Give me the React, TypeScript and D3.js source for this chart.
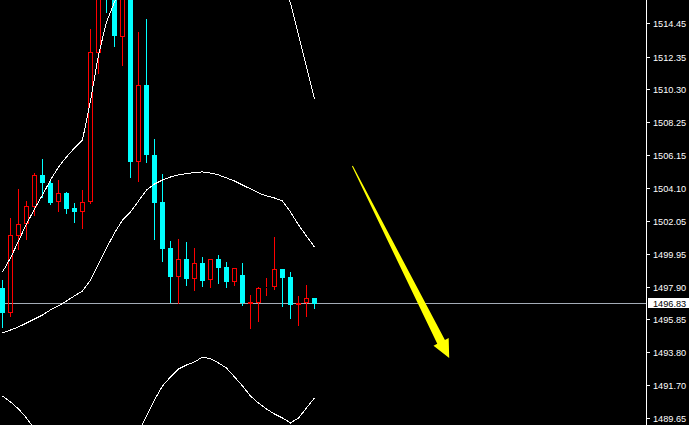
import React from "react";
import * as d3 from "d3";

const W = 689;
const H = 425;

const opens = [1497.82,1496.25,1501.08,1501.84,1502.91,1504.92,1504.41,1503.22,1503.79,1502.84,1502.59,1503.22,1512.58,1519.37,1517.48,1513.59,1516.54,1505.73,1510.57,1506.17,1503.22,1500.33,1498.51,1499.64,1498.38,1499.39,1498.32,1499.64,1499.14,1498.20,1498.63,1496.81,1496.88,1497.82,1497.88,1499.01,1498.51,1496.75,1496.88,1497.19];
const highs = [1498.32,1502.22,1504.04,1503.28,1505.04,1505.92,1504.67,1504.60,1503.85,1503.16,1503.97,1514.09,1518.74,1520.62,1518.42,1517.79,1517.17,1513.90,1514.72,1507.18,1504.98,1500.77,1500.90,1500.71,1500.33,1499.77,1499.64,1499.89,1499.45,1499.07,1499.39,1497.38,1497.88,1498.45,1501.02,1499.01,1498.82,1497.32,1498.01,1497.19];
const lows = [1495.37,1496.06,1500.27,1500.90,1502.40,1503.53,1503.10,1502.65,1502.53,1501.96,1501.59,1503.16,1511.32,1515.16,1513.02,1511.83,1504.79,1504.54,1505.73,1500.90,1499.51,1496.94,1496.88,1498.01,1497.69,1497.94,1497.88,1498.13,1497.88,1498.01,1496.75,1495.31,1495.75,1497.38,1497.76,1496.69,1495.93,1495.49,1496.06,1496.56];
const closes = [1496.25,1501.15,1501.84,1502.97,1504.92,1504.41,1503.16,1503.79,1502.78,1502.59,1503.22,1512.64,1517.17,1517.48,1513.65,1516.54,1505.73,1510.57,1506.17,1503.16,1500.27,1498.51,1499.64,1498.38,1499.39,1498.26,1499.64,1499.07,1498.20,1499.07,1496.88,1496.94,1497.82,1497.88,1499.01,1498.45,1496.75,1496.88,1497.19,1496.83];

const upperBand = [1498.82,1499.70,1500.77,1501.84,1502.78,1503.66,1504.60,1505.42,1506.05,1506.61,1507.12,1509.57,1512.46,1514.53,1515.78,1516.85,1517.23,1517.86,1518.17,1517.92,1517.54,1517.35,1517.10,1517.04,1516.98,1516.73,1516.73,1516.73,1516.66,1516.85,1516.92,1517.04,1516.98,1516.98,1517.04,1516.92,1515.72,1513.71,1511.70,1509.69];
const middleBand = [1494.99,1495.18,1495.37,1495.62,1495.87,1496.12,1496.44,1496.69,1497.00,1497.32,1497.63,1498.32,1499.33,1500.33,1501.27,1502.09,1502.59,1503.28,1503.97,1504.35,1504.60,1504.79,1504.92,1505.01,1505.07,1505.11,1505.04,1504.92,1504.73,1504.54,1504.29,1504.04,1503.79,1503.60,1503.47,1503.28,1502.59,1501.78,1501.08,1500.39];
const lowerBand = [1491.03,1490.66,1490.22,1489.65,1488.96,1488.58,1488.27,1487.96,1487.96,1488.02,1488.14,1487.08,1486.20,1486.13,1486.76,1487.33,1487.96,1488.71,1489.78,1490.78,1491.66,1492.23,1492.73,1492.98,1493.17,1493.48,1493.36,1493.11,1492.79,1492.23,1491.66,1491.03,1490.59,1490.22,1489.90,1489.65,1489.34,1489.65,1490.28,1490.91];

const tickLabels = ["1514.45","1512.35","1510.30","1508.25","1506.15","1504.10","1502.05","1499.95","1497.90","1495.85","1493.80","1491.70","1489.65"];
const currentPrice = 1496.83;
const arrowFrom = { bar: 43.8, price: 1505.48 };
const arrowTo = { bar: 55.9, price: 1493.42 };

const AXIS_X = 646;

export default function App() {
  const x = d3.scaleLinear().domain([0, 39]).range([2, 314]);
  const y = d3.scaleLinear().domain([1489.21, 1515.91]).range([H, 0]);
  const idx = d3.range(opens.length);

  const line = d3
    .line<number>()
    .x((_, i) => x(i) + 0.5)
    .y((d) => y(d));

  // arrow geometry
  const p0 = [x(arrowFrom.bar), y(arrowFrom.price)];
  const p1 = [x(arrowTo.bar), y(arrowTo.price)];
  const dx = p1[0] - p0[0];
  const dy = p1[1] - p0[1];
  const len = Math.hypot(dx, dy);
  const u = [dx / len, dy / len];
  const n = [u[1], -u[0]];
  const headLen = 18;
  const headHalf = 8.5;
  const base = [p1[0] - u[0] * headLen, p1[1] - u[1] * headLen];
  const tailHalf = 0.5;
  const shaftHalf = 4.3;
  const pt = (p: number[], k: number) => `${p[0] + n[0] * k},${p[1] + n[1] * k}`;
  const arrowPoints = [
    pt(p0, tailHalf),
    pt(base, shaftHalf),
    pt(base, headHalf),
    `${p1[0]},${p1[1]}`,
    pt(base, -headHalf),
    pt(base, -shaftHalf),
    pt(p0, -tailHalf),
  ].join(" ");

  const priceY = Math.floor(y(currentPrice)) + 0.5;

  return (
    <svg
      width={W}
      height={H}
      style={{ position: "fixed", left: 0, top: 0, background: "#000", display: "block" }}
      fontFamily="'Liberation Sans', Arial, sans-serif"
    >
      <defs>
        <clipPath id="plot">
          <rect x={0} y={0} width={AXIS_X} height={H} />
        </clipPath>
      </defs>
      <rect x={0} y={0} width={W} height={H} fill="#000" />
      <g clipPath="url(#plot)">
        <line x1={0} x2={AXIS_X} y1={priceY} y2={priceY} stroke="#a4acb6" strokeWidth={1} shapeRendering="crispEdges" />
        {idx.map((i) => {
          const cx = x(i);
          const o = opens[i];
          const c = closes[i];
          const up = c >= o;
          const yTop = Math.round(y(Math.max(o, c)));
          const yBot = Math.max(Math.round(y(Math.min(o, c))), yTop + 1);
          const yH = Math.round(y(highs[i]));
          const yL = Math.round(y(lows[i]));
          if (up) {
            return (
              <g key={i} shapeRendering="crispEdges">
                <line x1={cx + 0.5} x2={cx + 0.5} y1={yH} y2={yTop} stroke="#ff0000" />
                <line x1={cx + 0.5} x2={cx + 0.5} y1={yBot} y2={yL + 1} stroke="#ff0000" />
                <rect x={cx - 1.5} y={yTop + 0.5} width={4} height={Math.max(yBot - yTop - 1, 0)} fill="none" stroke="#ff0000" />
              </g>
            );
          }
          return (
            <g key={i} shapeRendering="crispEdges">
              <line x1={cx + 0.5} x2={cx + 0.5} y1={yH} y2={yL + 1} stroke="#00ffff" />
              <rect x={cx - 2} y={yTop} width={5} height={yBot - yTop} fill="#00ffff" />
            </g>
          );
        })}
        {[upperBand, middleBand, lowerBand].map((b, k) => (
          <path key={k} d={line(b) || ""} fill="none" stroke="#ffffff" strokeWidth={1} shapeRendering="crispEdges" />
        ))}
        <polygon points={arrowPoints} fill="#ffff00" />
      </g>
      <line x1={AXIS_X + 0.5} x2={AXIS_X + 0.5} y1={0} y2={H} stroke="#ffffff" shapeRendering="crispEdges" />
      {tickLabels.map((t) => {
        const ty = Math.round(y(+t)) + 0.5;
        return (
          <g key={t}>
            <line x1={AXIS_X + 1} x2={AXIS_X + 4} y1={ty} y2={ty} stroke="#ffffff" shapeRendering="crispEdges" />
            <text x={653} y={ty} dy="0.35em" fill="#ffffff" fontSize={9.2}>
              {t}
            </text>
          </g>
        );
      })}
      <rect x={AXIS_X + 2} y={priceY - 5.5} width={W - AXIS_X - 2} height={10} fill="#ffffff" shapeRendering="crispEdges" />
      <text x={653} y={priceY} dy="0.35em" fill="#000000" fontSize={9.2}>
        {currentPrice.toFixed(2)}
      </text>
    </svg>
  );
}
